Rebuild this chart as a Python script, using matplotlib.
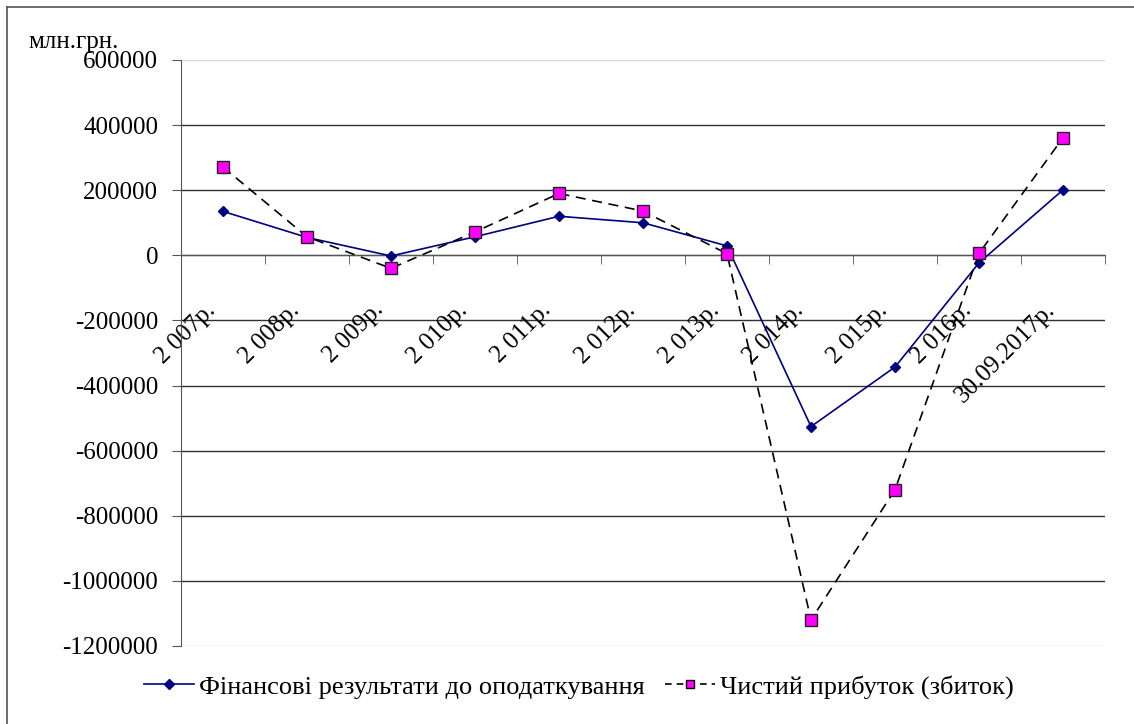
import numpy as np
import matplotlib.pyplot as plt
import matplotlib.transforms as mtransforms
from matplotlib.lines import Line2D

plt.rcParams['font.family'] = ['Liberation Serif', 'DejaVu Serif']

years = ['2 007р.', '2 008р.', '2 009р.', '2 010р.', '2 011р.', '2 012р.',
         '2 013р.', '2 014р.', '2 015р.', '2 016р.', '30.09.2017р.']
before_tax = [135000, 55000, -2000, 57000, 120000, 100000, 29000,
              -526000, -343000, -23000, 201000]
net_profit = [271000, 57000, -40000, 72000, 190000, 136000, 5000,
              -1120000, -720000, 6000, 361000]
yticks = [600000, 400000, 200000, 0, -200000, -400000, -600000,
          -800000, -1000000, -1200000]


def main():
    fig = plt.figure(figsize=(11.34, 7.24), dpi=100)
    ax = fig.add_axes([181 / 1134, 1 - 646 / 724, 924 / 1134, 586 / 724])

    x = np.arange(len(years))
    ax.set_xlim(-0.5, len(years) - 0.5)
    ax.set_ylim(-1200000, 600000)

    # gridlines (outer ones are faint in the original)
    for v in yticks:
        if v in (600000, -1200000):
            ax.axhline(v, color='#d8d8d8', linewidth=1.0, zorder=1)
        else:
            ax.axhline(v, color='#303030', linewidth=1.0, zorder=1)

    ax.plot(x, before_tax, color='#000080', linewidth=1.2, marker='D',
            markersize=5.5, markerfacecolor='#000080', markeredgecolor='#000080',
            zorder=3)
    ax.plot(x, net_profit, color='black', linewidth=1.2, linestyle=(0, (6, 4)),
            marker='s', markersize=8, markerfacecolor='#ff00ff',
            markeredgecolor='#222222', markeredgewidth=1.0, zorder=4)

    for side in ['top', 'right']:
        ax.spines[side].set_visible(False)
    ax.spines['left'].set_color('#555555')
    ax.spines['bottom'].set_position(('data', 0))
    ax.spines['bottom'].set_color('#555555')

    ax.set_yticks(yticks)
    ax.set_yticklabels([str(v) for v in yticks], fontsize=18)
    ax.tick_params(axis='y', direction='out', length=6.5, color='#555555', pad=10)

    # category ticks at boundaries, labels at centres
    ax.set_xticks(np.arange(len(years) + 1) - 0.5, minor=True)
    ax.set_xticks(x)
    ax.set_xticklabels(years, fontsize=18, rotation=45, ha='right',
                       va='center', rotation_mode='anchor')
    ax.tick_params(axis='x', which='major', length=0, pad=37)
    ax.tick_params(axis='x', which='minor', direction='out', length=6.5,
                   color='#555555')
    shift = mtransforms.ScaledTranslation(-11 / 100, 0, fig.dpi_scale_trans)
    for lab in ax.get_xticklabels():
        lab.set_transform(lab.get_transform() + shift)

    fig.text(28 / 1134, 1 - 42 / 724, 'млн.грн.', fontsize=18, va='center')

    handles = [
        Line2D([], [], color='#000080', linewidth=1.2, marker='D', markersize=5),
        Line2D([], [], color='black', linewidth=1.2, linestyle=(0, (4, 3)),
               marker='s', markersize=6, markerfacecolor='#ff00ff',
               markeredgecolor='black'),
    ]
    fig.legend(handles, ['Фінансові результати до оподаткування',
                         'Чистий прибуток (збиток)'],
               loc='center', bbox_to_anchor=(579 / 1134, 1 - 687 / 724),
               ncol=2, frameon=False, fontsize=19, handlelength=1.9,
               handletextpad=0.2, columnspacing=0.75, borderpad=0)

    # outer chart border (left and top only visible)
    fig.add_artist(Line2D([7 / 1134, 7 / 1134], [0, 1 - 7 / 724],
                          transform=fig.transFigure, color='#555555', lw=1.2))
    fig.add_artist(Line2D([7 / 1134, 1], [1 - 7 / 724, 1 - 7 / 724],
                          transform=fig.transFigure, color='#555555', lw=1.2))

    fig.savefig('out.png', dpi=100)


if __name__ == "__main__":
    main()
